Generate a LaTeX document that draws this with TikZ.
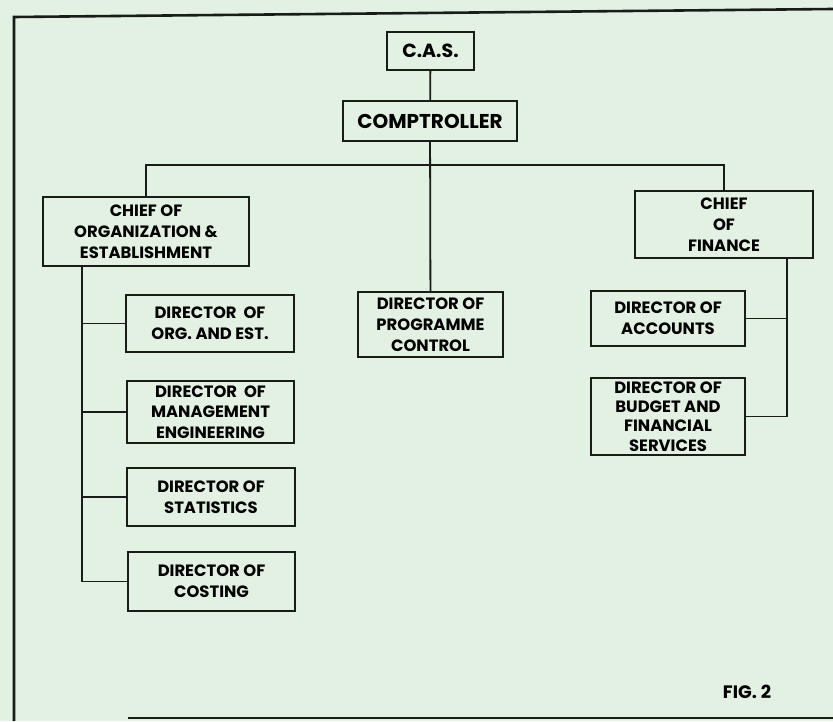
\documentclass[tikz,border=0pt]{standalone}
\usepackage{fontspec}
\setmainfont{Poppins}
\usetikzlibrary{calc}
\definecolor{paper}{RGB}{226,241,225}
\definecolor{ink}{RGB}{25,28,25}

\begin{document}
\begin{tikzpicture}[x=0.5pt,y=-0.5pt,
	every node/.style={draw=ink,line width=1pt,align=center,inner sep=0pt,
		font=\fontsize{8.2}{10.4}\selectfont\bfseries},
	boxsize/.style 2 args={minimum width=#1*0.5pt,minimum height=#2*0.5pt},
	link/.style={draw=ink,line width=0.9pt}]
\useasboundingbox (0,0) rectangle (833,721);
\fill[paper] (0,0) rectangle (833,721);
\draw[ink,line width=1.3pt] (833,9) -- (14,17) -- (14,721);
\draw[ink,line width=1.3pt] (128,718) -- (833,718);

\node[boxsize={87}{38},font=\fontsize{9.5}{12}\selectfont\bfseries] (cas) at (430.5,51) {C.A.S.};
\node[boxsize={174}{40},font=\fontsize{10}{12}\selectfont\bfseries] (comp) at (430,121) {COMPTROLLER};
\node[boxsize={206}{69}] (org) at (146,231.5) {CHIEF OF\\ORGANIZATION \&\\ESTABLISHMENT};
\node[boxsize={178}{67}] (fin) at (724,224.5) {CHIEF\\OF\\FINANCE};
\node[boxsize={145}{65}] (prog) at (430.5,324.5) {DIRECTOR OF\\PROGRAMME\\CONTROL};

\node[boxsize={168}{57}] (oe) at (210,323.5) {DIRECTOR\ \ OF\\ORG. AND EST.};
\node[boxsize={167}{62}] (mgt) at (210.5,412) {DIRECTOR\ \ OF\\MANAGEMENT\\ENGINEERING};
\node[boxsize={168}{58}] (stat) at (211,497) {DIRECTOR OF\\STATISTICS};
\node[boxsize={167}{59}] (cost) at (211.5,581.5) {DIRECTOR OF\\COSTING};

\node[boxsize={154}{55}] (acc) at (668,318.5) {DIRECTOR OF\\ACCOUNTS};
\node[boxsize={154}{77},font=\fontsize{8.2}{9.6}\selectfont\bfseries] (bud) at (668,416.5) {DIRECTOR OF\\BUDGET AND\\FINANCIAL\\SERVICES};

\node[draw=none,font=\fontsize{9}{11}\selectfont\bfseries] (fig) at (747,692) {FIG. 2};

% spines of the two chiefs
\coordinate (ls) at (82,266);
\coordinate (rs) at (787,258);
\coordinate (bus) at (430,165);

\draw[link] (cas) -- (comp);
\draw[link] (comp) -- (prog);
\draw[link] (org.north) |- (bus) -| (fin.north);
\draw[link] (ls) |- (cost.west);
\foreach \n in {oe,mgt,stat}
	\draw[link] (\n.west) -- (\n.west -| ls);
\draw[link] (rs) |- (bud.east);
\draw[link] (acc.east) -- (acc.east -| rs);
\end{tikzpicture}
\end{document}
